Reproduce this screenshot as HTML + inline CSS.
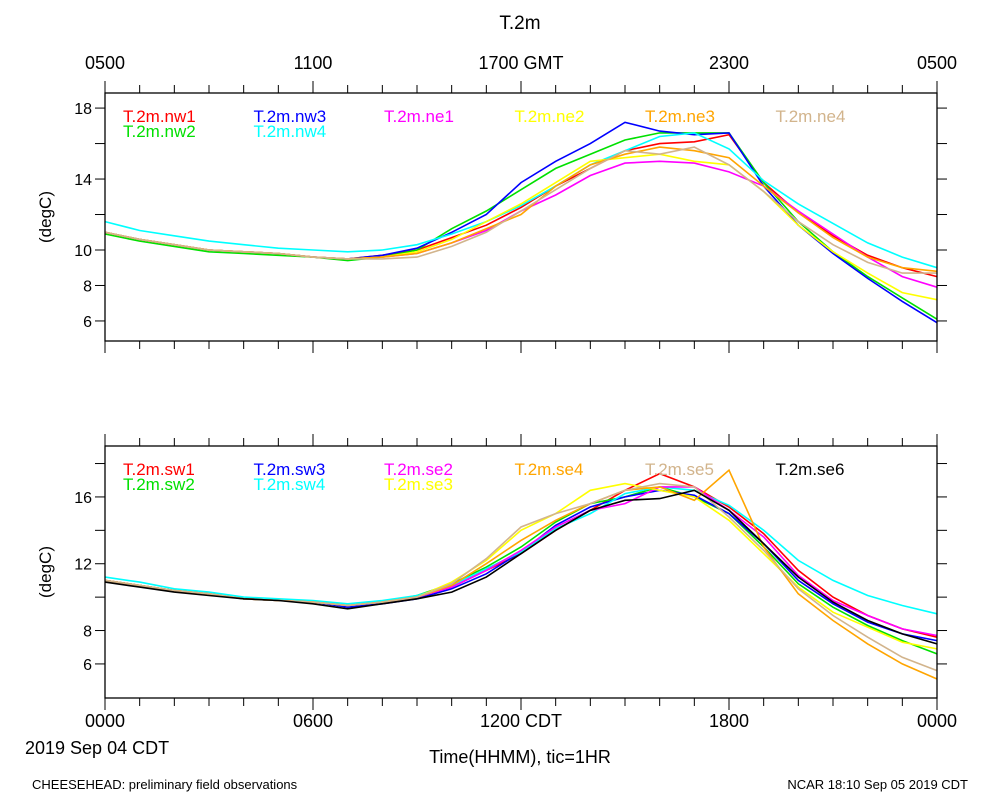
<!DOCTYPE html>
<html><head><meta charset="utf-8"><style>
body{margin:0;background:#fff;}
svg text{font-family:"Liberation Sans",sans-serif;}
</style></head><body>
<svg id="chart" width="1000" height="800" xmlns="http://www.w3.org/2000/svg">
<text x="520" y="29" font-size="19" text-anchor="middle">T.2m</text>
<g id="top"></g><g id="bot"></g>
<text x="25" y="754" font-size="18">2019 Sep 04 CDT</text>
<text x="520" y="763" font-size="18" text-anchor="middle">Time(HHMM), tic=1HR</text>
<text x="32" y="789" font-size="13">CHEESEHEAD: preliminary field observations</text>
<text x="968" y="789" font-size="13" text-anchor="end">NCAR 18:10 Sep 05 2019 CDT</text>
</svg>
<script>
const hours=[0,1,2,3,4,5,6,7,8,9,10,11,12,13,14,15,16,17,18,19,20,21,22,23,24];
const topNames=["T.2m.nw1","T.2m.nw2","T.2m.nw3","T.2m.nw4","T.2m.ne1","T.2m.ne2","T.2m.ne3","T.2m.ne4"];
const topColors=["#ff0000","#00e000","#0000ff","#00ffff","#ff00ff","#ffff00","#ffa500","#d2b48c"];
const nw1=[11.0,10.6,10.3,10.0,9.9,9.8,9.6,9.5,9.7,10.0,10.7,11.4,12.4,13.6,14.6,15.6,16.0,16.1,16.5,13.8,12.1,10.8,9.7,9.0,8.5];
const nw2=[10.9,10.5,10.2,9.9,9.8,9.7,9.6,9.4,9.6,10.0,11.2,12.2,13.4,14.6,15.4,16.2,16.6,16.6,16.6,13.8,11.6,9.9,8.5,7.3,6.1];
const nw3=[11.0,10.6,10.3,10.0,9.9,9.8,9.6,9.5,9.7,10.1,11.0,12.0,13.8,15.0,16.0,17.2,16.7,16.5,16.6,13.6,11.4,9.8,8.4,7.1,5.9];
const nw4=[11.6,11.1,10.8,10.5,10.3,10.1,10.0,9.9,10.0,10.3,10.9,11.6,12.5,13.6,14.8,15.6,16.4,16.6,15.7,13.9,12.6,11.5,10.4,9.6,9.0];
const ne1=[11.0,10.6,10.3,10.0,9.9,9.8,9.6,9.5,9.6,9.8,10.4,11.1,12.2,13.1,14.2,14.9,15.0,14.9,14.4,13.6,12.2,10.9,9.6,8.5,7.9];
const ne2=[11.0,10.6,10.3,10.0,9.9,9.8,9.6,9.5,9.6,9.9,10.6,11.6,12.6,13.8,15.0,15.2,15.4,15.0,14.8,13.3,11.4,9.9,8.7,7.6,7.2];
const ne3=[11.0,10.6,10.3,10.0,9.9,9.8,9.6,9.5,9.6,9.8,10.4,11.2,12.0,13.6,14.8,15.4,15.8,15.6,15.2,13.6,12.1,10.7,9.6,9.0,8.8];
const ne4=[11.0,10.6,10.3,10.0,9.9,9.8,9.6,9.5,9.5,9.6,10.2,11.0,12.2,13.4,14.6,15.6,15.4,15.8,14.8,13.3,11.6,10.3,9.3,8.7,8.7];
const botNames=["T.2m.sw1","T.2m.sw2","T.2m.sw3","T.2m.sw4","T.2m.se2","T.2m.se3","T.2m.se4","T.2m.se5","T.2m.se6"];
const botColors=["#ff0000","#00e000","#0000ff","#00ffff","#ff00ff","#ffff00","#ffa500","#d2b48c","#000000"];
const sw1=[11.0,10.7,10.4,10.2,9.9,9.8,9.7,9.5,9.7,10.0,10.6,11.6,12.6,14.0,15.2,16.4,17.4,16.6,15.4,13.8,11.6,10.0,8.9,8.1,7.6];
const sw2=[11.0,10.7,10.4,10.2,9.9,9.8,9.7,9.5,9.7,10.1,10.8,11.8,13.0,14.5,15.6,16.0,16.6,16.0,15.0,13.0,10.8,9.4,8.3,7.4,6.6];
const sw3=[11.0,10.7,10.4,10.2,9.9,9.8,9.7,9.4,9.6,9.9,10.5,11.4,12.7,14.3,15.4,16.0,16.4,16.1,15.0,13.2,11.0,9.6,8.5,7.8,7.4];
const sw4=[11.2,10.9,10.5,10.3,10.0,9.9,9.8,9.6,9.8,10.1,10.7,11.7,12.7,14.1,15.0,16.2,16.6,16.4,15.5,14.0,12.2,11.0,10.1,9.5,9.0];
const se2=[11.0,10.7,10.4,10.2,9.9,9.8,9.7,9.5,9.7,10.0,10.6,11.6,12.8,14.2,15.2,15.6,16.6,16.6,15.2,13.6,11.3,9.8,8.9,8.1,7.7];
const se3=[11.0,10.7,10.4,10.2,9.9,9.8,9.7,9.5,9.7,10.0,10.9,12.2,14.0,15.0,16.4,16.8,16.4,16.0,14.6,12.6,10.6,9.1,8.2,7.3,6.9];
const se4=[11.0,10.7,10.4,10.2,9.9,9.8,9.7,9.5,9.7,10.0,10.7,12.0,13.4,14.6,15.6,16.4,16.6,15.8,17.6,13.0,10.2,8.6,7.2,6.0,5.1];
const se5=[11.0,10.7,10.4,10.2,9.9,9.8,9.7,9.5,9.7,10.0,10.8,12.3,14.2,15.0,15.6,16.4,16.8,16.6,14.8,12.8,10.5,8.9,7.6,6.4,5.6];
const se6=[10.9,10.6,10.3,10.1,9.9,9.8,9.6,9.3,9.6,9.9,10.3,11.2,12.6,14.0,15.2,15.8,15.9,16.4,15.2,13.2,11.2,9.7,8.6,7.8,7.2];
const topSeries=[nw1,nw2,nw3,nw4,ne1,ne2,ne3,ne4];
const botSeries=[sw1,sw2,sw3,sw4,se2,se3,se4,se5,se6];
const topTicks=[6,8,10,12,14,16,18];
const topTickLabels=["6","8","10","","14","","18"];
const botTicks=[6,8,10,12,14,16,18];
const botTickLabels=["6","8","","12","","16",""];
const gmtLabels=["0500","1100","1700 GMT","2300","0500"];
const cdtLabels=["0000","0600","1200 CDT","1800","0000"];

const NS="http://www.w3.org/2000/svg";
function mk(parent,tag,attrs){const e=document.createElementNS(NS,tag);for(const k in attrs)e.setAttribute(k,attrs[k]);parent.appendChild(e);return e;}
const X0=105,X1=937;
function xs(h){return X0+(X1-X0)*h/24;}
function panel(g,y0,y1,vmin,vmax,series,colors,names,ticks,tlabels,prefix){
  const ys=v=>y1-(v-vmin)/(vmax-vmin)*(y1-y0);
  series.forEach((s,i)=>{
    const d=s.map((v,j)=>(j?"L":"M")+xs(hours[j]).toFixed(1)+","+ys(v).toFixed(1)).join("");
    const p=mk(g,"path",{d:d,fill:"none",stroke:colors[i],"stroke-width":1.6});
    
    
  });
  const r=mk(g,"rect",{x:X0,y:y0,width:X1-X0,height:y1-y0,fill:"none",stroke:"#000","stroke-width":1.3});
  
  
  for(let h=0;h<=24;h++){
    const len=h%6==0?12:8;
    mk(g,"line",{x1:xs(h),x2:xs(h),y1:y0,y2:y0-len,stroke:"#000","stroke-width":1});
    mk(g,"line",{x1:xs(h),x2:xs(h),y1:y1,y2:y1+len,stroke:"#000","stroke-width":1});
  }
  ticks.forEach((t,i)=>{
    const y=ys(t);
    mk(g,"line",{x1:X0-10,x2:X0,y1:y,y2:y,stroke:"#000","stroke-width":1});
    mk(g,"line",{x1:X1,x2:X1+10,y1:y,y2:y,stroke:"#000","stroke-width":1});
    if(tlabels[i]){const t2=mk(g,"text",{x:X0-13,y:y+6,"font-size":16,"text-anchor":"end"});t2.textContent=tlabels[i];
      
      }
  });
  const yt=mk(g,"text",{x:0,y:0,"font-size":17,"text-anchor":"middle",transform:`translate(51,${(y0+y1)/2}) rotate(-90)`});
  yt.textContent="(degC)";
  
  
  names.forEach((n,i)=>{
    const col=Math.floor(i/2)+(prefix==="bottom"&&i>=6?0:0);
    let cx,cy;
    if(prefix==="top"){const cols=[0,0,1,1,2,3,4,5];const rows=[0,1,0,1,0,0,0,0];cx=123+130.5*cols[i];cy=122+15*rows[i];}
    else{const cols=[0,0,1,1,2,2,3,4,5];const rows=[0,1,0,1,0,1,0,0,0];cx=123+130.5*cols[i];cy=475+15*rows[i];}
    const t=mk(g,"text",{x:cx,y:cy,"font-size":17,fill:colors[i]});t.textContent=n;
    
    
  });
}
panel(document.getElementById("top"),93,341,4.87,18.85,topSeries,topColors,topNames,topTicks,topTickLabels,"top");
panel(document.getElementById("bot"),446,698,3.96,19.05,botSeries,botColors,botNames,botTicks,botTickLabels,"bottom");
const svg=document.getElementById("chart");
gmtLabels.forEach((l,i)=>{const t=mk(svg,"text",{x:xs(i*6),y:69,"font-size":18,"text-anchor":"middle"});t.textContent=l;
  
  });
cdtLabels.forEach((l,i)=>{const t=mk(svg,"text",{x:xs(i*6),y:727,"font-size":18,"text-anchor":"middle"});t.textContent=l;
  
  });
</script>
</body></html>
